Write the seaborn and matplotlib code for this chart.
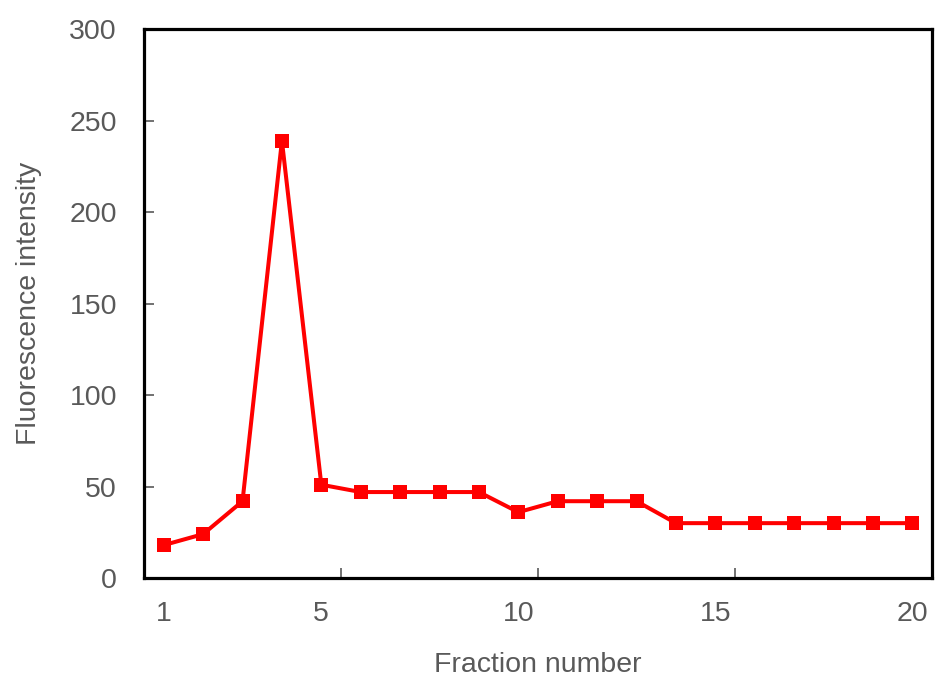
import matplotlib
matplotlib.use('Agg')
import matplotlib.pyplot as plt
import seaborn as sns
import pandas as pd

# datos
fraction = list(range(1, 21))
intensity = [18, 24, 42, 239, 51, 47, 47, 47, 47, 36,
             42, 42, 42, 30, 30, 30, 30, 30, 30, 30]
tick_pos = [1, 5, 10, 15, 20]

sns.set_style('white')
plt.rcParams['font.family'] = ['Liberation Sans', 'DejaVu Sans']

df = pd.DataFrame({'Fraction': fraction, 'Intensity': intensity})

fig = plt.figure(figsize=(9.37, 6.79), dpi=100)
ax = fig.add_axes([0.1537, 0.1487, 0.8410, 0.8083])

sns.lineplot(data=df, x='Fraction', y='Intensity', ax=ax, color='#ff0000',
             marker='s', markersize=9.5, markeredgewidth=0, linewidth=2.9)

ax.set_xlim(0.5, 20.5)
ax.set_ylim(0, 300)
ax.set_yticks(range(0, 301, 50))
ax.set_xticks(tick_pos)
ax.set_xticks([5.5, 10.5, 15.5], minor=True)

grey = '#595959'
fs = 20.5
ax.tick_params(axis='x', which='major', bottom=True, length=0, pad=16.5, labelsize=fs, labelcolor=grey)
ax.tick_params(axis='x', which='minor', bottom=True, direction='in', length=7, width=1.2, color=grey)
ax.tick_params(axis='y', which='major', left=True, direction='in', length=7, width=1.2, color=grey,
               pad=19.5, labelsize=fs, labelcolor=grey)
for s in ax.spines.values():
    s.set_color('black')
    s.set_linewidth(2.3)

ax.set_xlabel('Fraction number', fontsize=fs, color=grey, labelpad=18)
ax.set_ylabel('Fluorescence intensity', fontsize=fs, color=grey, labelpad=20)

fig.savefig('out.png', dpi=100)
